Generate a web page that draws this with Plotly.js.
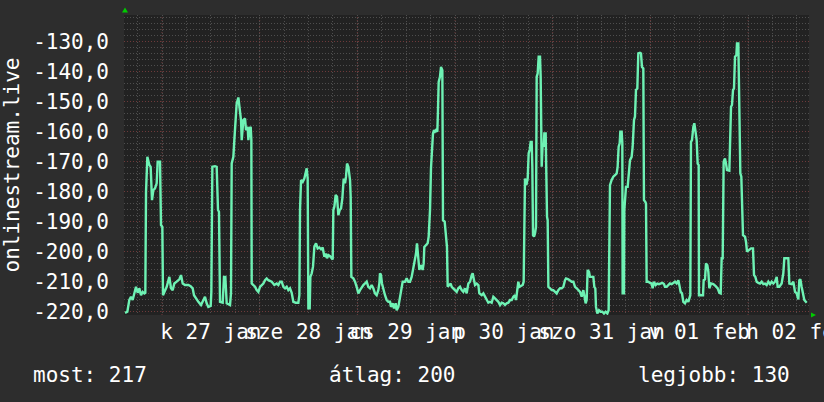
<!DOCTYPE html>
<html>
<head>
<meta charset="utf-8">
<script src="https://cdn.plot.ly/plotly-3.0.1.min.js"></script>
<style>
  html, body { margin: 0; padding: 0; background: #2d2d2d; }
  #chart { width: 824px; height: 402px; }
</style>
</head>
<body>
<div id="chart"></div>
<script>
// ---- data ----
// start of the first labelled day (midnight, 27 Jan)
const startDay = Date.UTC(2026, 0, 27, 0, 0, 0);
// hours since startDay for each sample
const hoursFromStart = [
  -9.09,-8.52,-8.03,-7.62,-7.21,-6.80,-6.39,-5.98,-5.57,-5.16,
  -4.75,-4.34,-4.10,-3.93,-3.60,-3.11,-2.79,-2.46,-2.13,-1.72,
  -1.31,-1.07,-0.49,-0.25,0.08,0.24,0.57,1.15,1.80,2.21,
  2.62,3.03,3.60,4.26,4.67,5.08,5.65,6.47,7.04,7.53,
  7.86,8.35,8.93,9.58,10.16,10.56,10.97,11.38,11.96,12.12,
  12.37,13.02,13.43,13.76,14.00,14.25,14.91,15.23,15.56,15.89,
  16.71,16.95,17.12,17.53,17.77,18.10,18.35,18.76,19.09,19.41,
  19.58,19.99,20.40,20.64,21.05,21.22,21.54,21.79,21.95,22.04,
  22.44,22.85,23.26,23.67,24.08,24.49,24.90,25.31,25.72,26.13,
  26.95,27.60,28.18,28.59,29.00,29.41,29.82,30.23,30.63,31.04,
  31.45,31.86,32.27,32.85,33.50,33.75,33.91,34.16,34.57,34.97,
  35.30,35.55,35.79,35.96,36.29,36.45,36.78,37.10,37.43,37.84,
  38.25,38.66,39.07,39.48,39.89,40.22,40.54,40.87,41.28,41.69,
  41.94,42.10,42.35,42.67,43.00,43.33,43.66,43.98,44.31,44.64,
  44.97,45.21,45.46,45.79,46.20,46.36,46.52,47.01,47.42,47.83,
  48.24,48.65,49.06,49.47,49.88,50.29,50.69,51.10,51.51,51.92,
  52.33,52.74,53.15,53.40,53.56,53.81,54.05,54.38,54.79,55.20,
  55.61,56.02,56.26,56.67,57.00,57.41,57.66,58.07,58.48,58.89,
  59.13,59.70,60.11,60.52,60.93,61.34,61.75,62.16,62.41,62.65,
  62.98,63.23,63.55,63.80,64.04,64.29,64.45,64.86,65.27,65.52,
  65.85,66.09,66.34,66.58,66.83,67.07,67.32,67.65,67.81,67.98,
  68.30,68.55,68.88,69.04,69.45,69.78,70.02,70.19,70.60,70.92,
  71.17,71.58,71.99,72.40,72.81,73.22,73.63,74.04,74.45,74.86,
  75.27,75.68,76.09,76.33,76.66,76.91,77.32,77.73,77.97,78.55,
  78.95,79.36,79.77,80.18,80.59,81.00,81.41,81.82,82.23,82.64,
  83.05,83.46,83.87,84.28,84.69,85.10,85.51,85.92,86.33,86.74,
  86.98,87.39,87.55,87.80,88.21,88.62,88.86,89.03,89.19,89.52,
  89.85,90.09,90.34,90.58,90.83,90.99,91.16,91.40,91.65,91.89,
  92.06,92.30,92.55,92.88,93.04,93.29,93.53,93.78,93.94,94.27,
  94.35,94.60,94.76,94.93,95.33,95.74,96.15,96.56,96.97,97.38,
  97.79,98.20,98.61,99.02,99.27,99.84,100.25,100.66,101.07,101.48,
  101.89,102.30,102.71,103.11,103.52,103.76,104.09,104.34,104.58,104.91,
  105.16,105.57,105.98,106.22,106.47,106.63,106.96,107.37,107.78,108.19,
  108.60,109.01,109.42,109.74,109.91,110.07,110.48,110.89,111.30,111.71,
  111.95,112.20,112.45,112.61,112.94,113.10,113.18,113.51,113.59,114.00,
  114.41,114.66,114.99,115.39,115.64,115.97,116.21,116.46,116.79,117.03,
  117.44,117.69,117.93,118.26,118.42,118.75,118.92,119.08,119.49,119.90,
  120.31,120.55,120.88,121.29,121.70,122.11,122.52,122.93,123.34,123.58,
  123.99,124.40,124.81,125.22,125.63,126.04,126.45,126.86,127.11,127.43,
  127.76,128.09,128.50,128.91,129.32,129.56,129.81,129.97,130.22,130.55,
  130.79,131.04,131.37,131.61,131.86,131.94,132.43,132.93,133.09,133.42,
  133.66,133.99,134.24,134.48,134.89,135.46,136.04,136.53,136.94,137.27,
  137.51,137.76,138.00,138.33,138.58,138.82,139.40,139.64,139.81,140.05,
  140.30,140.54,140.79,141.12,141.28,141.61,141.85,142.10,142.34,142.51,
  142.75,143.25,143.49,143.74,144.23,144.72,145.21,145.46,145.78,146.11,
  146.52,146.93,147.34,147.75,148.16,148.57,148.98,149.39,149.80,150.21,
  150.62,151.03,151.27,151.68,152.25,152.66,152.91,153.32,153.89,154.14,
  154.71,155.12,155.53,155.94,156.35,156.59,156.84,157.16,157.57,157.82,158.40
];
// onlinestream.live values
const streamValues = [
  -220.5,-220.1,-216.2,-215.1,-216.2,-214.0,-211.8,-213.8,-212.3,-214.6,
  -213.5,-214.0,-213.8,-180.1,-168.5,-171.2,-171.8,-182.9,-179.6,-179.0,
  -177.3,-170.1,-170.1,-191.2,-191.8,-214.6,-213.5,-211.8,-208.5,-212.3,
  -212.9,-210.7,-210.1,-209.3,-207.9,-210.7,-211.2,-211.2,-211.6,-212.3,
  -214.6,-215.7,-216.8,-217.9,-216.2,-215.1,-217.3,-218.5,-218.2,-213.5,
  -171.8,-171.6,-171.8,-186.2,-186.8,-216.8,-217.1,-208.5,-208.5,-217.3,
  -217.9,-214.0,-170.7,-168.5,-162.9,-153.8,-150.7,-148.7,-151.8,-156.2,
  -162.9,-156.2,-155.7,-159.6,-158.5,-162.9,-159.0,-158.5,-162.9,-210.7,
  -211.2,-211.8,-212.9,-213.5,-211.8,-211.2,-210.7,-209.6,-209.0,-209.6,
  -210.1,-211.2,-210.7,-211.2,-210.1,-210.1,-211.8,-212.3,-211.8,-212.9,
  -212.3,-213.8,-216.8,-217.1,-217.1,-214.6,-186.2,-176.2,-176.8,-175.7,
  -174.0,-172.3,-175.7,-219.0,-219.0,-208.5,-207.3,-205.1,-198.5,-197.3,
  -199.0,-198.7,-199.3,-198.7,-201.8,-200.7,-202.3,-201.2,-201.6,-202.3,
  -202.7,-186.2,-185.1,-181.2,-181.8,-187.9,-186.2,-185.7,-182.3,-175.7,
  -177.3,-175.1,-170.7,-171.8,-176.2,-181.8,-208.5,-209.0,-210.1,-211.8,
  -214.0,-212.9,-211.8,-211.2,-210.7,-210.1,-211.8,-212.3,-211.2,-212.3,
  -214.0,-214.6,-212.9,-210.7,-207.3,-207.9,-210.7,-212.9,-214.6,-216.2,
  -216.8,-216.8,-218.5,-217.3,-219.0,-217.3,-219.6,-218.5,-215.1,-212.9,
  -210.1,-210.1,-209.0,-210.1,-210.1,-208.5,-205.7,-202.9,-200.7,-197.3,
  -204.0,-206.2,-204.6,-205.1,-206.2,-204.0,-198.5,-197.9,-197.3,-195.1,
  -186.2,-172.3,-164.0,-160.7,-159.6,-160.1,-159.6,-160.1,-152.9,-143.5,
  -141.8,-138.5,-139.6,-189.6,-190.1,-197.3,-198.5,-211.8,-211.2,-210.7,
  -211.8,-212.3,-212.9,-213.5,-212.3,-211.8,-212.9,-213.5,-212.3,-214.0,
  -210.7,-210.1,-207.9,-207.3,-209.6,-211.2,-210.7,-211.2,-214.0,-214.6,
  -214.0,-215.1,-216.2,-217.1,-216.8,-217.1,-215.1,-215.7,-216.2,-216.8,
  -217.9,-217.1,-217.3,-217.9,-217.3,-217.1,-216.2,-216.2,-215.1,-214.6,
  -216.2,-210.7,-210.1,-211.8,-211.6,-211.2,-210.1,-179.6,-175.7,-177.9,
  -175.7,-167.3,-166.2,-163.5,-163.5,-171.8,-194.6,-195.1,-194.0,-191.8,
  -141.8,-140.7,-135.1,-135.1,-141.8,-171.8,-164.0,-165.1,-160.7,-160.7,
  -171.8,-188.5,-189.6,-211.8,-212.3,-212.9,-212.9,-213.5,-214.0,-212.9,
  -212.3,-212.3,-211.8,-209.6,-209.0,-209.3,-209.6,-210.1,-210.1,-211.8,
  -212.3,-212.9,-213.5,-215.1,-212.9,-214.6,-217.3,-216.2,-206.2,-206.8,
  -208.5,-208.5,-208.5,-211.8,-212.3,-218.5,-220.7,-219.6,-220.1,-220.1,
  -220.7,-220.1,-220.7,-219.6,-197.3,-177.9,-176.2,-175.1,-174.6,-174.0,
  -171.8,-165.1,-164.0,-160.1,-160.1,-164.0,-214.0,-214.0,-186.2,-178.5,
  -178.5,-174.0,-169.6,-168.5,-165.1,-156.2,-155.1,-146.2,-145.7,-134.0,
  -133.8,-134.0,-138.5,-139.0,-182.9,-183.5,-184.0,-210.1,-210.1,-210.5,
  -210.7,-212.3,-210.1,-211.2,-210.7,-210.9,-210.7,-210.5,-210.9,-211.8,
  -211.8,-211.2,-210.7,-210.9,-210.5,-210.1,-210.7,-209.6,-211.2,-213.5,
  -214.0,-216.8,-217.3,-216.2,-216.8,-215.1,-214.6,-163.5,-162.9,-158.5,
  -157.3,-159.6,-162.9,-170.7,-171.2,-214.6,-214.6,-214.6,-209.6,-209.3,
  -204.0,-204.6,-206.8,-212.3,-210.7,-210.9,-211.6,-212.3,-213.8,-214.0,
  -202.3,-202.3,-170.1,-169.0,-170.7,-172.9,-173.1,-164.0,-151.8,-151.2,
  -146.2,-145.7,-135.1,-134.6,-130.7,-130.7,-152.9,-174.0,-175.1,-186.2,
  -194.6,-195.1,-196.8,-200.1,-199.6,-199.0,-199.0,-207.9,-208.5,-210.1,
  -210.5,-210.7,-210.1,-210.9,-210.7,-211.2,-210.1,-210.9,-210.1,-210.7,
  -210.1,-208.5,-211.8,-211.8,-210.7,-207.3,-202.3,-202.3,-202.3,-210.7,
  -210.9,-210.1,-213.5,-214.0,-216.0,-209.6,-209.3,-211.8,-214.0,-216.2,-217.1
];
// y axis ticks
const yTickValues = [-220, -210, -200, -190, -180, -170, -160, -150, -140, -130];
const yTickLabels = ['-220,0', '-210,0', '-200,0', '-190,0', '-180,0', '-170,0', '-160,0', '-150,0', '-140,0', '-130,0'];
// x axis: midnights (hours relative to startDay) and the day labels, drawn centred on each day
const midnightHours = [-24, 0, 24, 48, 72, 96, 120, 144];
const dayLabels = ['h 26 jan', 'k 27 jan', 'sze 28 jan', 'cs 29 jan', 'p 30 jan', 'szo 31 jan', 'v 01 feb', 'h 02 feb'];
// visible window (hours relative to startDay)
const windowHours = [-9.34, 158.97];
const yRange = [-221.2, -121.2];
// summary line under the chart
const summaryLabels = ['most: 217', 'átlag: 200', 'legjobb: 130'];
const seriesName = 'onlinestream.live';

// ---- build ----
const H = 3600000;
const xs = hoursFromStart.map(h => startDay + h * H);

const W = 824, HT = 402;
const M = { l: 124, r: 15, t: 15, b: 87 };
const plotW = W - M.l - M.r;
const plotH = HT - M.t - M.b;

const font = { family: 'DejaVu Sans Mono, monospace', size: 21, color: '#ffffff' };
const redGrid = '#6e3a3a';
const grayGrid = '#4e4e4e';
const dots = '1px,2px';

const trace = {
  type: 'scatter', mode: 'lines', name: seriesName,
  x: xs, y: streamValues,
  line: { color: '#6ef2b4', width: 2.4 },
  hoverinfo: 'skip'
};

const pxToPaperX = px => (px - M.l) / plotW;
const pxToPaperY = py => (M.t + plotH - py) / plotH;

// red dotted day separators at each midnight
const daySeparators = midnightHours
  .filter(h => h > windowHours[0] && h < windowHours[1])
  .map(h => ({
    type: 'line', xref: 'x', yref: 'paper', layer: 'between',
    x0: startDay + h * H, x1: startDay + h * H, y0: 0, y1: 1,
    line: { color: redGrid, width: 1, dash: dots }
  }));

const layout = {
  width: W, height: HT,
  margin: M,
  paper_bgcolor: '#2d2d2d',
  plot_bgcolor: '#222222',
  showlegend: false,
  font: font,
  xaxis: {
    type: 'date',
    range: [startDay + windowHours[0] * H, startDay + windowHours[1] * H],
    tickmode: 'array',
    tickvals: midnightHours.map(h => startDay + (h + 12) * H),
    ticktext: dayLabels,
    ticklabeloverflow: 'allow',
    tickangle: 0,
    ticks: '',
    ticklabelstandoff: 2,
    showgrid: true, gridcolor: grayGrid, griddash: dots, gridwidth: 1,
    minor: { dtick: 6 * H, tick0: startDay, showgrid: true, gridcolor: grayGrid, griddash: dots, gridwidth: 1 },
    zeroline: false, showline: false,
    tickfont: font, fixedrange: true
  },
  yaxis: {
    range: yRange,
    tickmode: 'array',
    tickvals: yTickValues,
    ticktext: yTickLabels,
    ticks: '',
    ticklabelstandoff: 14,
    showgrid: true, gridcolor: redGrid, griddash: dots, gridwidth: 1,
    minor: { dtick: 2, tick0: -220, showgrid: true, gridcolor: grayGrid, griddash: dots, gridwidth: 1 },
    zeroline: false, showline: false,
    tickfont: font,
    title: { text: seriesName, font: font, standoff: 12 },
    fixedrange: true
  },
  shapes: daySeparators.concat([
    { type: 'path', xref: 'paper', yref: 'paper', xsizemode: 'pixel', ysizemode: 'pixel',
      xanchor: 0, yanchor: 1, path: 'M -2 2.5 L 4 2.5 L 1 7.5 Z',
      fillcolor: '#00cc00', line: { width: 0 } },
    { type: 'path', xref: 'paper', yref: 'paper', xsizemode: 'pixel', ysizemode: 'pixel',
      xanchor: 1, yanchor: 0, path: 'M 2 2.5 L 2 -2.5 L 7 0 Z',
      fillcolor: '#00cc00', line: { width: 0 } }
  ]),
  annotations: [
    { text: summaryLabels[0], xref: 'paper', yref: 'paper', x: pxToPaperX(31), y: pxToPaperY(375), xanchor: 'left', yanchor: 'middle', showarrow: false, font: font },
    { text: summaryLabels[1], xref: 'paper', yref: 'paper', x: pxToPaperX(327), y: pxToPaperY(375), xanchor: 'left', yanchor: 'middle', showarrow: false, font: font },
    { text: summaryLabels[2], xref: 'paper', yref: 'paper', x: pxToPaperX(636), y: pxToPaperY(375), xanchor: 'left', yanchor: 'middle', showarrow: false, font: font }
  ]
};

Plotly.newPlot('chart', [trace], layout, { staticPlot: true, displayModeBar: false });
</script>
</body>
</html>
